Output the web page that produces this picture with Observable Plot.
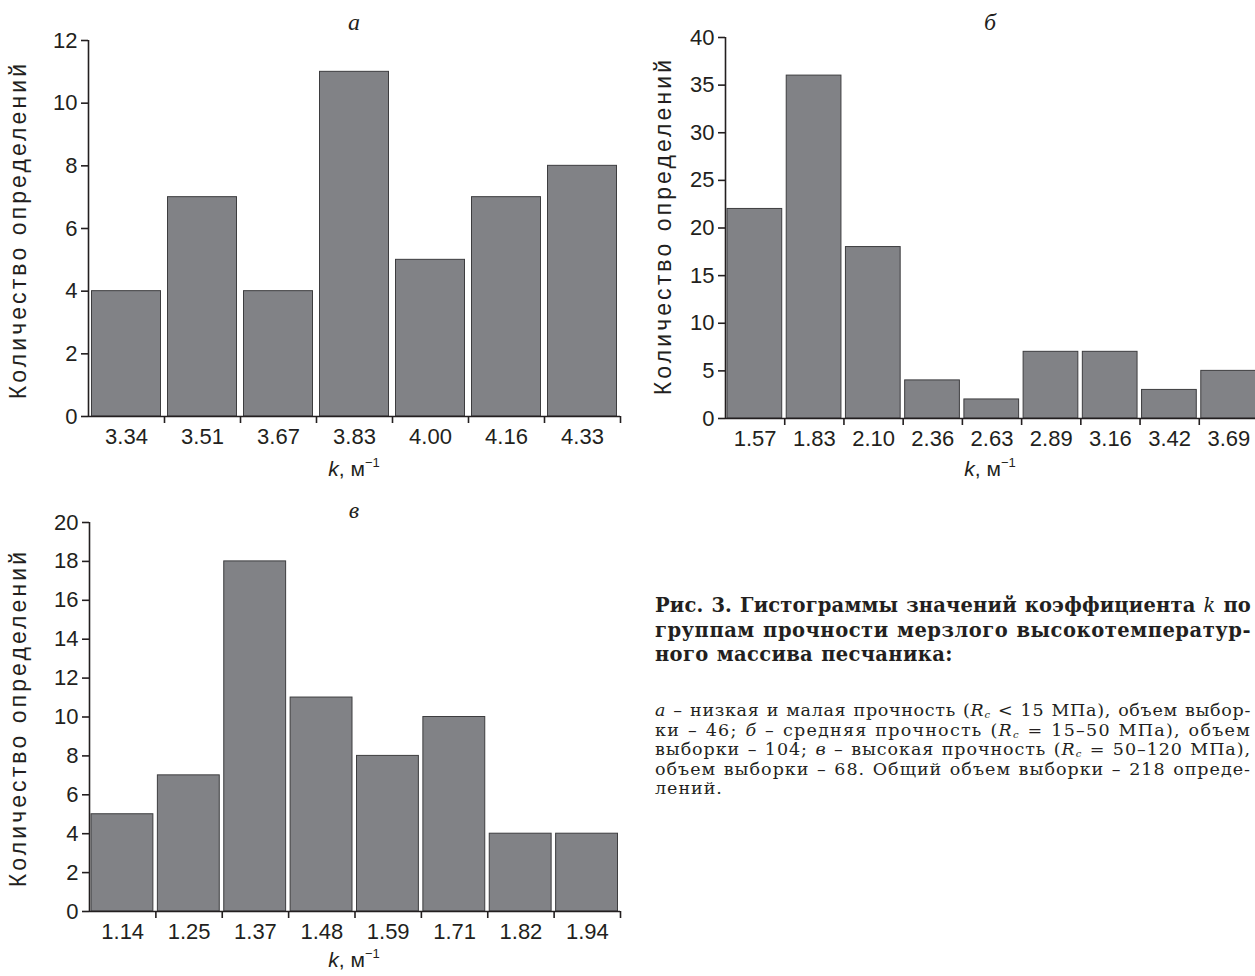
<!DOCTYPE html>
<html>
<head>
<meta charset="utf-8">
<script src="https://cdn.jsdelivr.net/npm/d3@7"></script>
<script src="https://cdn.jsdelivr.net/npm/@observablehq/plot@0.6"></script>
<style>
  html, body { margin: 0; padding: 0; background: #fff; }
  body { width: 1255px; height: 976px; overflow: hidden; position: relative; color: #231f20; }
  .panel { position: absolute; width: 640px; height: 480px; }
  .panel svg { overflow: visible; max-width: none !important; }
  .ttl { position: absolute; font-family: "Liberation Serif", serif; font-style: italic; font-size: 24px; transform: translate(-50%, -50%); white-space: nowrap; }
  .ylab { position: absolute; font-family: "Liberation Sans", Arial, sans-serif; font-size: 23px; white-space: nowrap; transform: translate(-50%, -50%) rotate(-90deg); }
  .xlab { position: absolute; font-family: "Liberation Sans", Arial, sans-serif; font-size: 21px; white-space: nowrap; transform: translate(-50%, -50%); }
  .xlab sup { font-size: 13px; vertical-align: 9px; line-height: 0; }
  .capb { position: absolute; left: 655px; top: 594px; font-family: "DejaVu Serif", serif; font-weight: bold; font-size: 19.5px; line-height: 24.5px; white-space: nowrap; }
  .capn { position: absolute; left: 655px; top: 701px; font-family: "DejaVu Serif", serif; font-size: 17.5px; line-height: 19.5px; white-space: nowrap; }
  .capb > div, .capn > div { white-space: nowrap; height: 24.5px; }
  .capn > div { height: 19.5px; }
  .capb i { font-weight: normal; }
  i, sub { line-height: 0; }
  sub { font-size: 10px; vertical-align: -2px; }
</style>
</head>
<body>
<div id="pa" class="panel" style="left:0;top:0"></div>
<div id="pb" class="panel" style="left:640px;top:0"></div>
<div id="pc" class="panel" style="left:0;top:490px"></div>

<div class="ttl" style="left:354px;top:22px">а</div>
<div class="ttl" style="left:990px;top:22px">б</div>
<div class="ttl" style="left:354px;top:510px">в</div>

<div class="ylab" style="left:18px;top:230px">Количество определений</div>
<div class="ylab" style="left:663px;top:226px">Количество определений</div>
<div class="ylab" style="left:18px;top:718px">Количество определений</div>

<div class="xlab" style="left:354px;top:469px"><i>k</i>, м<sup>−1</sup></div>
<div class="xlab" style="left:990px;top:469px"><i>k</i>, м<sup>−1</sup></div>
<div class="xlab" style="left:354px;top:960px"><i>k</i>, м<sup>−1</sup></div>

<div class="capb">
  <div class="fit">Рис. 3. Гистограммы значений коэффициента <i>k</i> по</div>
  <div class="fit">группам прочности мерзлого высокотемператур-</div>
  <div class="ls">ного массива песчаника:</div>
</div>
<div class="capn">
  <div class="fit"><i>а</i> – низкая и малая прочность (<i>R</i><sub><i>c</i></sub> &lt; 15 МПа), объем выбор-</div>
  <div class="fit">ки – 46; <i>б</i> – средняя прочность (<i>R</i><sub><i>c</i></sub> = 15–50 МПа), объем</div>
  <div class="fit">выборки – 104; <i>в</i> – высокая прочность (<i>R</i><sub><i>c</i></sub> = 50–120 МПа),</div>
  <div class="fit">объем выборки – 68. Общий объем выборки – 218 опреде-</div>
  <div class="ls">лений.</div>
</div>

<script>
// ---- data ----
const labelsA = ["3.34", "3.51", "3.67", "3.83", "4.00", "4.16", "4.33"];
const countsA = [4, 7, 4, 11, 5, 7, 8];
const yTicksA = [0, 2, 4, 6, 8, 10, 12];

const labelsB = ["1.57", "1.83", "2.10", "2.36", "2.63", "2.89", "3.16", "3.42", "3.69"];
const countsB = [22, 36, 18, 4, 2, 7, 7, 3, 5];
const yTicksB = [0, 5, 10, 15, 20, 25, 30, 35, 40];

const labelsC = ["1.14", "1.25", "1.37", "1.48", "1.59", "1.71", "1.82", "1.94"];
const countsC = [5, 7, 18, 11, 8, 10, 4, 4];
const yTicksC = [0, 2, 4, 6, 8, 10, 12, 14, 16, 18, 20];

function hist(labels, counts, yTicks, o) {
  const n = labels.length;
  const yMax = yTicks[yTicks.length - 1];
  const data = labels.map((l, i) => ({i, label: l, count: counts[i]}));
  return Plot.plot({
    width: o.width, height: o.height,
    marginLeft: o.ml, marginRight: o.mr, marginTop: o.mt, marginBottom: o.mb,
    style: {fontFamily: "Liberation Sans, Arial, sans-serif", fontSize: "22px", color: "#231f20", background: "transparent"},
    x: {domain: [0, n], axis: null},
    y: {domain: [0, yMax], axis: null},
    marks: [
      Plot.rectY(data, {x1: "i", x2: d => d.i + 1, y: "count", fill: "#818286", stroke: "#3d3d3f", strokeWidth: 1, insetLeft: o.il, insetRight: o.ir}),
      Plot.ruleX([0], {y1: 0, y2: yMax, stroke: "#231f20", strokeWidth: 1.6}),
      Plot.ruleY([0], {x1: 0, x2: n, stroke: "#231f20", strokeWidth: 1.6}),
      Plot.axisY({ticks: yTicks, tickSize: 7, tickPadding: 4, tickFormat: d => String(d), label: null, strokeWidth: 1.6}),
      Plot.axisX({ticks: d3.range(1, n + 1), tickSize: 7, tickFormat: () => "", label: null, strokeWidth: 1.6}),
      Plot.axisX({ticks: data.map(d => d.i + 0.5), tickSize: 0, tickPadding: 12, tickFormat: d => labels[Math.floor(d)], label: null})
    ]
  });
}

document.getElementById("pa").append(hist(labelsA, countsA, yTicksA, {width: 640, height: 480, ml: 88, mr: 20, mt: 40, mb: 64, il: 3.5, ir: 3.5}));
document.getElementById("pb").append(hist(labelsB, countsB, yTicksB, {width: 640, height: 480, ml: 85, mr: 22, mt: 37, mb: 62, il: 2, ir: 2.5}));
document.getElementById("pc").append(hist(labelsC, countsC, yTicksC, {width: 640, height: 480, ml: 89, mr: 20, mt: 32, mb: 59, il: 2, ir: 2.5}));

// stretch the rotated axis titles to the reference length
document.querySelectorAll(".ylab").forEach(el => {
  const w = el.offsetWidth;
  const nch = el.textContent.length;
  el.style.letterSpacing = ((338 - w) / nch) + "px";
});
// justify caption lines to a common width (kept inside the page): small extra word gap, rest as letter spacing
const capWidth = 596;
let capLS = {};
document.querySelectorAll(".fit").forEach(el => {
  el.style.display = "inline-block";
  el.style.wordSpacing = "1px";
  el.style.letterSpacing = "0px";
  const w = el.getBoundingClientRect().width;
  const nch = el.textContent.trim().length;
  const ls = (capWidth - w) / nch;
  el.style.letterSpacing = ls + "px";
  el.style.display = "block";
  const key = el.parentNode.className;
  (capLS[key] = capLS[key] || []).push(ls);
});
document.querySelectorAll(".ls").forEach(el => {
  const arr = capLS[el.parentNode.className] || [0];
  el.style.wordSpacing = "1px";
  el.style.letterSpacing = (arr.reduce((a, b) => a + b, 0) / arr.length) + "px";
});
</script>
</body>
</html>
